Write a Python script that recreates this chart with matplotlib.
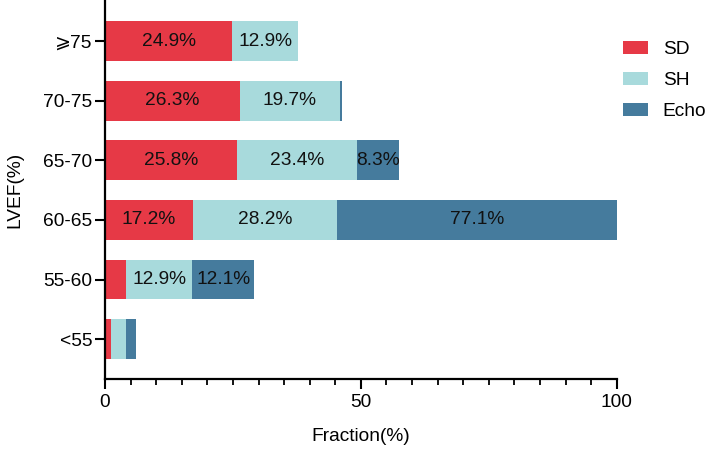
import matplotlib
matplotlib.use("Agg")
import matplotlib.pyplot as plt
import numpy as np

plt.rcParams['font.family'] = ['Liberation Sans', 'DejaVu Sans']

categories = ["<55", "55-60", "60-65", "65-70", "70-75", "⩾75"]
sd = [1.2, 4.2, 17.2, 25.8, 26.3, 24.9]
sh = [3.0, 12.9, 28.2, 23.4, 19.7, 12.9]
echo = [1.8, 12.1, 77.1, 8.3, 0.4, 0.0]
series_names = ["SD", "SH", "Echo"]
colors = ["#E63946", "#A8DADC", "#457B9D"]
label_min = 5.0

FS = 13.8

fig = plt.figure(figsize=(7.07, 4.5), dpi=100)
ax = fig.add_axes([0.1485, 0.158, 0.7238, 0.842])

y = np.arange(len(categories))
left = np.zeros(len(categories))
for name, vals, c in zip(series_names, [sd, sh, echo], colors):
    vals = np.array(vals)
    ax.barh(y, vals, left=left, height=0.667, color=c, label=name, edgecolor='none')
    for yi, l, v in zip(y, left, vals):
        if v >= label_min:
            end = min(l + v, 100)
            ax.text((l + end) / 2, yi, f"{v:.1f}%", ha='center', va='center',
                    fontsize=FS, color='#111111')
    left = left + vals

ax.set_xlim(0, 100)
ax.set_ylim(-0.667, 5.69)
ax.set_yticks(y)
ax.set_yticklabels(categories, fontsize=FS)
ax.set_xticks([0, 50, 100])
ax.set_xticks(np.arange(0, 101, 5), minor=True)
ax.tick_params(axis='x', labelsize=FS, length=7, width=1.5, pad=4)
ax.tick_params(axis='x', which='minor', length=4, width=1.3)
ax.tick_params(axis='y', length=7.2, width=1.5, pad=2)
for s in ['top', 'right']:
    ax.spines[s].set_visible(False)
for s in ['left', 'bottom']:
    ax.spines[s].set_linewidth(1.6)
ax.set_xlabel("Fraction(%)", fontsize=FS, labelpad=12)
ax.set_ylabel("LVEF(%)", fontsize=FS, labelpad=14)

ax.legend(loc='upper left', bbox_to_anchor=(623 / 707, (450 - 41) / 450),
          bbox_transform=fig.transFigure, frameon=False, borderpad=0,
          borderaxespad=0, fontsize=FS, handlelength=1.3, handleheight=0.66,
          labelspacing=0.72, handletextpad=0.78)

fig.savefig("out.png", dpi=100)
